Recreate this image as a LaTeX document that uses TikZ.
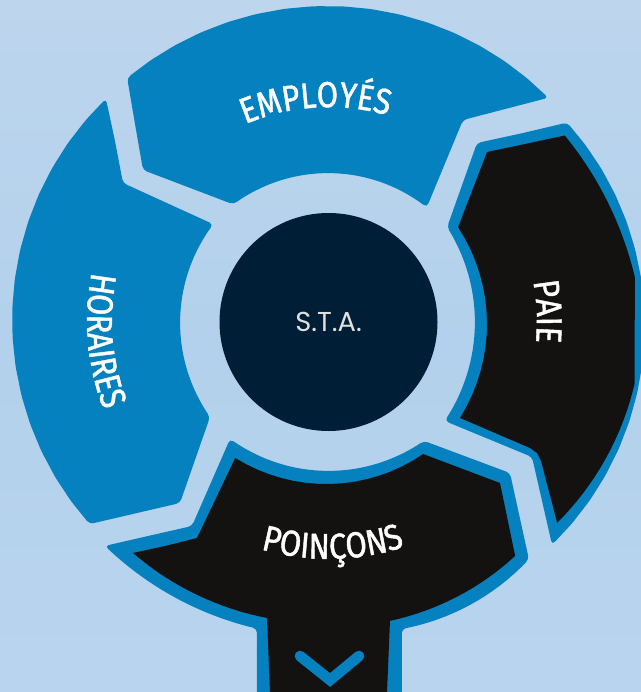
\documentclass[tikz,border=0pt]{standalone}
\usepackage{fontspec}
\usetikzlibrary{decorations.text}
\newfontfamily\lab[FakeStretch=0.86,FakeBold=1.2]{Fira Sans}
\newfontfamily\stafont{Poppins}
\definecolor{bgA}{HTML}{BDD5ED}
\definecolor{bgB}{HTML}{B3D1EC}
\definecolor{bgC}{HTML}{B9D4EE}
\definecolor{seg}{HTML}{0681BF}
\definecolor{ink}{HTML}{141210}
\definecolor{hub}{HTML}{001F36}
\tikzset{
  arcp/.style n args={5}{insert path={-- plot[domain=0:1,samples=17] ({329+(#3*(1-\x)+#4*\x+4*(#5-(#3+#4)/2)*\x*(1-\x))*cos(#1+(#2-#1)*\x)},{321+(#3*(1-\x)+#4*\x+4*(#5-(#3+#4)/2)*\x*(1-\x))*sin(#1+(#2-#1)*\x)})}},
  arcm/.style n args={3}{insert path={plot[domain=0:1,samples=17] ({329+#3*cos(#1+(#2-#1)*\x)},{321+#3*sin(#1+(#2-#1)*\x)})}},
  bluepart/.style={fill=seg,rounded corners=3pt},
  blackpart/.style={fill=ink},
  curved/.style={postaction={decorate},decoration={text along path,text align=center,text={#1}}},
}
\begin{document}
\begin{tikzpicture}[x=0.75pt,y=-0.75pt]
\useasboundingbox (0,0) rectangle (641,692);
\clip (0,0) rectangle (641,692);
\shade[top color=bgA,bottom color=bgC,middle color=bgB] (0,0) rectangle (641,692);
% EMPLOYES
\path[bluepart] (135,124) [arcp={230.3}{314.5}{316}{313}{315}] -- (463,120) [arcp={310.7}{230.6}{150}{151}{148}] -- (143,170) -- cycle;
% HORAIRES
\path[bluepart] (115,141) [arcp={224.9}{139.7}{315}{314}{317}] -- (180,503) [arcp={141.1}{219.9}{153}{151}{149}] -- (123,183) -- cycle;
% PAIE
\path[bluepart] (523,133) [arcp={-39.8}{45.1}{310}{316}{316}] -- (532,457) [arcp={40.8}{-38.5}{153}{151}{146}] -- (477,143) -- cycle;
\path[blackpart] (525,144) [arcp={-38.2}{-8.2}{300}{309}{303}] [arcp={11.6}{41.5}{312}{304.6}{309}] -- (541,461) -- (537,453) -- (530,448) [arcp={36.5}{-36}{163}{159.6}{158}] -- (487,152) -- cycle;
% POINCONS
\path[bluepart] (148,536) [arcp={134.9}{103.2}{317.5}{316}{316.5}] -- (257,700) -- (402,700) [arcp={76.7}{50}{316.5}{311}{317}] -- (510,473) [arcp={51.6}{130}{153}{154}{150}] -- (192,526) -- cycle;
\path[blackpart] (165,546) [arcp={130.2}{101.8}{303.7}{303.4}{304}] -- (270,692) -- (387,692) [arcp={78.5}{51.6}{306}{299.7}{304}] -- (500,483) [arcp={54.7}{124.4}{163}{166}{163}] -- (197,538) -- cycle;
% chevron
\coordinate (cl) at (300,656);
\coordinate (cm) at (330,680);
\coordinate (cr) at (359,656);
\draw[seg,line width=8pt,line cap=round] (cl) -- (cm) -- (cr);
% hub
\node[circle,fill=hub,minimum size=163.5pt,inner sep=0pt,text=white!88!black,font=\stafont\fontsize{20.5}{22}\selectfont] (sta) at (328.5,322) {S.T.A.};
% labels
\path[curved={|\lab\fontsize{27}{30}\selectfont\color{white}|EMPLOYÉS}] [arcm={236}{297}{214}];
\path[curved={|\lab\fontsize{27}{30}\selectfont\color{white}|HORAIRES}] [arcm={205}{145}{242}];
\path[curved={|\lab\fontsize{27}{30}\selectfont\color{white}|PAIE}] [arcm={-30}{25}{208}];
\path[curved={|\lab\fontsize{27}{30}\selectfont\color{white}|POINÇONS}] [arcm={120}{58}{238}];
\end{tikzpicture}
\end{document}
